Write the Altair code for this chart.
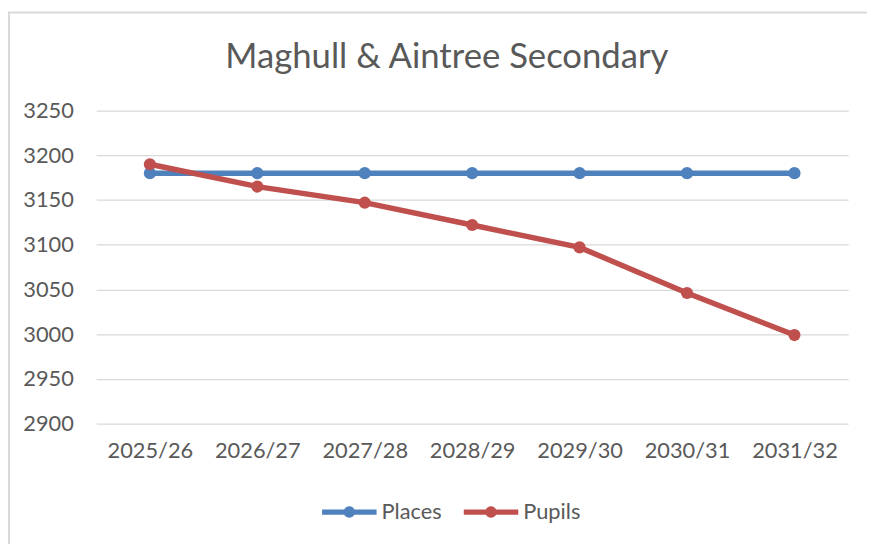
import altair as alt
import pandas as pd

title_text = "Maghull & Aintree Secondary"
years = ["2025/26", "2026/27", "2027/28", "2028/29", "2029/30", "2030/31", "2031/32"]
places = [3180, 3180, 3180, 3180, 3180, 3180, 3180]
pupils = [3190, 3165, 3147, 3122, 3097, 3046, 2999]
series_names = ["Places", "Pupils"]
series_colors = ["#4F81BD", "#C0504D"]
y_ticks = [2900, 2950, 3000, 3050, 3100, 3150, 3200, 3250]

rows = []
for name, vals in zip(series_names, [places, pupils]):
    for yr, v in zip(years, vals):
        rows.append({"Year": yr, "Series": name, "Value": v})
df = pd.DataFrame(rows)

FONT = "Lato"
TXT = "#595959"

x_enc = alt.X("Year:N", sort=years,
              scale=alt.Scale(type="point", padding=0.5),
              axis=alt.Axis(title=None, labelAngle=0, labelFontSize=22, labelColor=TXT,
                            labelFont=FONT, domain=False, ticks=False, grid=False,
                            labelPadding=17))
y_enc = alt.Y("Value:Q",
              scale=alt.Scale(domain=[2900, 3250], nice=False, zero=False),
              axis=alt.Axis(title=None, values=y_ticks, format="d", labelFontSize=22,
                            labelColor=TXT, labelFont=FONT, domain=False, ticks=False,
                            grid=True, gridColor="#D9D9D9", gridWidth=1.3, labelPadding=23))
legend_path = ("M-1,-0.095L1,-0.095L1,0.095L-1,0.095Z "
               "M-0.21,0A0.21,0.21,0,1,1,0.21,0A0.21,0.21,0,1,1,-0.21,0Z")
color_enc = alt.Color("Series:N",
                      scale=alt.Scale(domain=series_names, range=series_colors),
                      legend=alt.Legend(title=None, orient="none", direction="horizontal",
                                        legendX=228, legendY=377.5, padding=0,
                                        symbolType=legend_path, symbolSize=3025,
                                        symbolStrokeWidth=0, labelFontSize=22,
                                        labelColor=TXT, labelFont=FONT, labelOffset=5,
                                        columnPadding=22))

lines = alt.Chart(df).mark_line(strokeWidth=5.5).encode(x=x_enc, y=y_enc, color=color_enc)
points = alt.Chart(df).mark_circle(size=150, opacity=1).encode(x=x_enc, y=y_enc, color=color_enc)

tdf = pd.DataFrame({"t": [title_text]})
title = alt.Chart(tdf).mark_text(font=FONT, fontSize=35, color=TXT, align="center",
                                 baseline="alphabetic").encode(
    text="t:N", x=alt.value(354), y=alt.value(-43))
border = alt.Chart(tdf).mark_rect(fill="transparent", stroke="#D9D9D9", strokeWidth=2).encode(
    x=alt.value(-88), x2=alt.value(900), y=alt.value(-99), y2=alt.value(700))

chart = alt.layer(border, lines, points, title).properties(
    width=759, height=316,
    autosize=alt.AutoSizeParams(type="none"),
    padding={"left": 89, "top": 101, "right": 19, "bottom": 119},
).configure(background="white").configure_view(stroke=None)

chart.save("out.html", embed_options={"renderer": "svg", "actions": False})
